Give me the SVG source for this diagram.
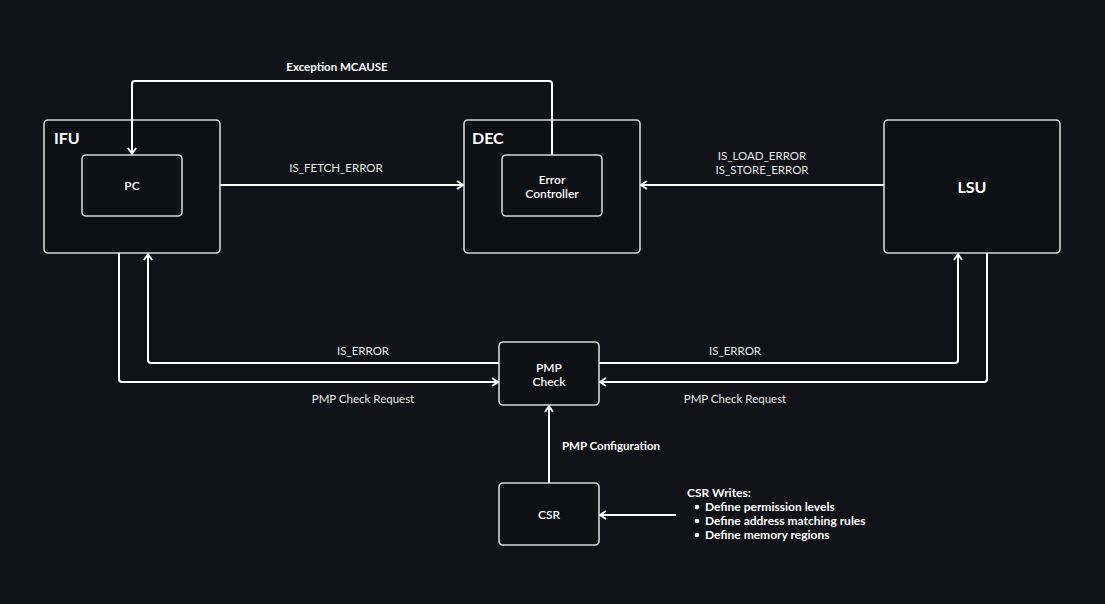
<svg xmlns="http://www.w3.org/2000/svg" width="1105" height="604" viewBox="0 0 1105 604">
<style>
.bg{fill:#111217}
.box{fill:#0f1014;stroke:#d4d4d4;stroke-width:1.6}
.t{font-family:Lato,"Liberation Sans",sans-serif;fill:#ffffff;dominant-baseline:central}
.title{font-size:16px;font-weight:700}
.lbl{font-size:12px;font-weight:600;text-anchor:middle}
.cl{font-size:11.5px;fill:#e6e6e6;text-anchor:middle}
.cb{font-size:11.5px;font-weight:700}
.nb{font-size:12px;font-weight:700}
.c{fill:none;stroke:#ffffff;stroke-width:2;stroke-linejoin:round}
</style>
<defs>
<marker id="ah" viewBox="0 0 8 10" refX="7" refY="5" markerWidth="8" markerHeight="10" markerUnits="userSpaceOnUse" orient="auto">
<path d="M1,1 L7,5 L1,9" fill="none" stroke="#ffffff" stroke-width="1.8"/>
</marker>
</defs>
<rect class="bg" x="0" y="0" width="1105" height="604"/>
<g id="IFU">
<rect class="box" x="44" y="120" width="176" height="133" rx="4"/>
<text class="t title" x="54" y="137">IFU</text>
</g>
<g id="PC">
<rect class="box" x="82" y="155" width="100" height="61" rx="4"/>
<text class="t lbl" x="132" y="185">PC</text>
</g>
<g id="DEC">
<rect class="box" x="464" y="120" width="176" height="133" rx="4"/>
<text class="t title" x="472" y="137">DEC</text>
</g>
<g id="ErrorController">
<rect class="box" x="502" y="155" width="100" height="61" rx="4"/>
<text class="t lbl" x="552" y="179">Error</text>
<text class="t lbl" x="552" y="193">Controller</text>
</g>
<g id="LSU">
<rect class="box" x="884" y="120" width="176" height="133" rx="4"/>
<text class="t title" x="972" y="186" text-anchor="middle">LSU</text>
</g>
<g id="PMPCheck">
<rect class="box" x="499" y="342" width="100" height="63" rx="4"/>
<text class="t lbl" x="549" y="367">PMP</text>
<text class="t lbl" x="549" y="381">Check</text>
</g>
<g id="CSR">
<rect class="box" x="499" y="483" width="100" height="62" rx="4"/>
<text class="t lbl" x="549" y="514">CSR</text>
</g>
<g id="CSRWrites">
<text class="t nb" x="687" y="492">CSR Writes:</text>
<circle cx="697" cy="507" r="2.3" fill="#ffffff"/>
<circle cx="697" cy="521" r="2.3" fill="#ffffff"/>
<circle cx="697" cy="535" r="2.3" fill="#ffffff"/>
<text class="t nb" x="705" y="506">Define permission levels</text>
<text class="t nb" x="705" y="520">Define address matching rules</text>
<text class="t nb" x="705" y="534">Define memory regions</text>
</g>
<g id="connectors">
<path class="c" d="M552,155 V84 Q552,81 549,81 H135 Q132,81 132,84 V154" marker-end="url(#ah)"/>
<path class="c" d="M220,185 H463" marker-end="url(#ah)"/>
<path class="c" d="M884,185 H641" marker-end="url(#ah)"/>
<path class="c" d="M499,363 H151 Q148,363 148,360 V254" marker-end="url(#ah)"/>
<path class="c" d="M599,363 H955 Q958,363 958,360 V254" marker-end="url(#ah)"/>
<path class="c" d="M119,253 V379 Q119,382 122,382 H498" marker-end="url(#ah)"/>
<path class="c" d="M987,253 V379 Q987,382 984,382 H600" marker-end="url(#ah)"/>
<path class="c" d="M549,483 V406" marker-end="url(#ah)"/>
<path class="c" d="M676,515 H600" marker-end="url(#ah)"/>
<text class="t cb" x="337" y="66" text-anchor="middle">Exception MCAUSE</text>
<text class="t cl" x="336" y="167">IS_FETCH_ERROR</text>
<text class="t cl" x="762" y="155">IS_LOAD_ERROR</text>
<text class="t cl" x="762" y="169">IS_STORE_ERROR</text>
<text class="t cl" x="363" y="350">IS_ERROR</text>
<text class="t cl" x="735" y="350">IS_ERROR</text>
<text class="t cl" x="363" y="398">PMP Check Request</text>
<text class="t cl" x="735" y="398">PMP Check Request</text>
<text class="t cb" x="562" y="445">PMP Configuration</text>
</g>
</svg>
